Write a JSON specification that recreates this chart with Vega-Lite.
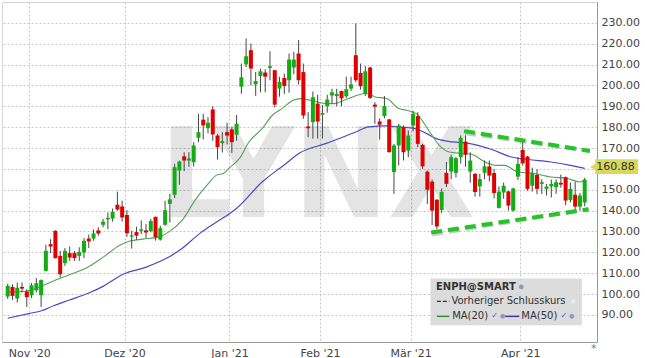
{
  "$schema": "https://vega.github.io/schema/vega-lite/v6.json",
  "width": 595,
  "height": 340,
  "autosize": {"type": "none"},
  "padding": {"left": 2, "top": 2, "right": 48, "bottom": 16},
  "background": "#ffffff",
  "data": {"values": [{}]},
  "config": {
    "view": {"stroke": "#d6d6d6", "strokeWidth": 1},
    "font": "DejaVu Sans",
    "axis": {
      "grid": true, "gridColor": "#c4c4c4", "gridDash": [2, 2], "gridWidth": 1,
      "ticks": false, "labelFont": "DejaVu Sans", "labelFontSize": 11, "labelColor": "#444444",
      "domainColor": "#9a9a9a", "labelOverlap": false
    }
  },
  "datasets": {
    "candles": [
      {"d":"2020-10-26","i":0,"o":98.8,"h":104.9,"l":97.7,"c":103.9},
      {"d":"2020-10-27","i":1,"o":103.4,"h":104.7,"l":97.2,"c":99.1},
      {"d":"2020-10-28","i":2,"o":97.8,"h":105.5,"l":95.9,"c":103.0},
      {"d":"2020-10-29","i":3,"o":103.4,"h":105.5,"l":100.7,"c":102.6},
      {"d":"2020-10-30","i":4,"o":101.2,"h":102.3,"l":93.8,"c":98.5},
      {"d":"2020-11-02","i":5,"o":99.4,"h":105.2,"l":98.0,"c":104.2},
      {"d":"2020-11-03","i":6,"o":101.8,"h":107.6,"l":100.7,"c":105.2},
      {"d":"2020-11-04","i":7,"o":99.4,"h":107.0,"l":93.8,"c":106.7},
      {"d":"2020-11-05","i":8,"o":111.1,"h":123.6,"l":110.8,"c":120.7},
      {"d":"2020-11-06","i":9,"o":123.9,"h":126.3,"l":119.6,"c":122.8},
      {"d":"2020-11-09","i":10,"o":130.3,"h":130.6,"l":117.0,"c":117.2},
      {"d":"2020-11-10","i":11,"o":118.3,"h":120.7,"l":107.9,"c":109.5},
      {"d":"2020-11-11","i":12,"o":114.8,"h":122.0,"l":113.5,"c":120.7},
      {"d":"2020-11-12","i":13,"o":119.6,"h":122.8,"l":115.9,"c":117.5},
      {"d":"2020-11-13","i":14,"o":119.6,"h":120.6,"l":115.9,"c":117.2},
      {"d":"2020-11-16","i":15,"o":118.3,"h":122.4,"l":115.9,"c":120.2},
      {"d":"2020-11-17","i":16,"o":119.9,"h":126.8,"l":117.2,"c":125.5},
      {"d":"2020-11-18","i":17,"o":126.6,"h":128.5,"l":122.1,"c":125.2},
      {"d":"2020-11-19","i":18,"o":126.6,"h":131.0,"l":125.5,"c":129.0},
      {"d":"2020-11-20","i":19,"o":130.5,"h":132.0,"l":128.0,"c":129.0},
      {"d":"2020-11-23","i":20,"o":133.2,"h":136.0,"l":132.0,"c":134.7},
      {"d":"2020-11-24","i":21,"o":135.8,"h":139.1,"l":131.1,"c":136.5},
      {"d":"2020-11-25","i":22,"o":136.2,"h":141.0,"l":134.7,"c":139.4},
      {"d":"2020-11-27","i":23,"o":142.8,"h":149.1,"l":140.0,"c":140.5},
      {"d":"2020-11-30","i":24,"o":142.0,"h":144.7,"l":134.7,"c":136.7},
      {"d":"2020-12-01","i":25,"o":137.9,"h":140.2,"l":127.4,"c":129.1},
      {"d":"2020-12-02","i":26,"o":127.5,"h":130.3,"l":121.8,"c":128.1},
      {"d":"2020-12-03","i":27,"o":129.7,"h":132.3,"l":126.0,"c":128.0},
      {"d":"2020-12-04","i":28,"o":130.3,"h":135.3,"l":128.7,"c":131.0},
      {"d":"2020-12-07","i":29,"o":130.5,"h":133.5,"l":126.8,"c":129.5},
      {"d":"2020-12-08","i":30,"o":130.2,"h":136.0,"l":129.6,"c":135.0},
      {"d":"2020-12-09","i":31,"o":137.0,"h":137.1,"l":125.6,"c":127.2},
      {"d":"2020-12-10","i":32,"o":126.1,"h":132.7,"l":125.6,"c":131.6},
      {"d":"2020-12-11","i":33,"o":133.2,"h":144.7,"l":132.7,"c":140.2},
      {"d":"2020-12-14","i":34,"o":143.2,"h":148.0,"l":134.3,"c":145.4},
      {"d":"2020-12-15","i":35,"o":147.6,"h":162.4,"l":146.0,"c":160.8},
      {"d":"2020-12-16","i":36,"o":159.2,"h":164.0,"l":152.4,"c":163.5},
      {"d":"2020-12-17","i":37,"o":166.0,"h":168.0,"l":158.9,"c":164.0},
      {"d":"2020-12-18","i":38,"o":164.0,"h":168.0,"l":161.0,"c":165.0},
      {"d":"2020-12-21","i":39,"o":163.2,"h":172.8,"l":161.1,"c":171.2},
      {"d":"2020-12-22","i":40,"o":174.9,"h":186.4,"l":172.8,"c":177.6},
      {"d":"2020-12-23","i":41,"o":183.6,"h":186.4,"l":174.1,"c":180.8},
      {"d":"2020-12-24","i":42,"o":179.5,"h":184.8,"l":177.1,"c":182.1},
      {"d":"2020-12-28","i":43,"o":188.5,"h":190.1,"l":173.5,"c":176.5},
      {"d":"2020-12-29","i":44,"o":176.0,"h":176.8,"l":164.5,"c":170.4},
      {"d":"2020-12-30","i":45,"o":172.3,"h":177.6,"l":167.9,"c":173.3},
      {"d":"2020-12-31","i":46,"o":177.6,"h":182.1,"l":171.7,"c":176.0},
      {"d":"2021-01-04","i":47,"o":178.9,"h":180.0,"l":167.6,"c":172.8},
      {"d":"2021-01-05","i":48,"o":176.4,"h":185.8,"l":173.5,"c":181.6},
      {"d":"2021-01-06","i":49,"o":199.4,"h":210.5,"l":196.0,"c":203.9},
      {"d":"2021-01-07","i":50,"o":210.1,"h":222.5,"l":208.8,"c":214.0},
      {"d":"2021-01-08","i":51,"o":216.9,"h":220.1,"l":200.0,"c":208.1},
      {"d":"2021-01-11","i":52,"o":200.5,"h":206.4,"l":195.0,"c":202.1},
      {"d":"2021-01-12","i":53,"o":204.5,"h":208.1,"l":196.7,"c":206.8},
      {"d":"2021-01-13","i":54,"o":206.2,"h":207.8,"l":196.7,"c":204.2},
      {"d":"2021-01-14","i":55,"o":208.4,"h":216.4,"l":202.5,"c":209.2},
      {"d":"2021-01-15","i":56,"o":207.3,"h":207.5,"l":189.4,"c":190.8},
      {"d":"2021-01-19","i":57,"o":198.5,"h":204.1,"l":194.6,"c":201.7},
      {"d":"2021-01-20","i":58,"o":203.6,"h":205.7,"l":195.9,"c":199.7},
      {"d":"2021-01-21","i":59,"o":202.5,"h":215.3,"l":196.5,"c":212.4},
      {"d":"2021-01-22","i":60,"o":208.6,"h":216.1,"l":205.4,"c":212.4},
      {"d":"2021-01-25","i":61,"o":215.3,"h":221.7,"l":200.4,"c":202.5},
      {"d":"2021-01-26","i":62,"o":206.4,"h":210.5,"l":184.0,"c":185.6},
      {"d":"2021-01-27","i":63,"o":180.3,"h":187.2,"l":175.2,"c":179.5},
      {"d":"2021-01-28","i":64,"o":182.4,"h":197.1,"l":174.5,"c":194.3},
      {"d":"2021-01-29","i":65,"o":191.3,"h":195.5,"l":174.5,"c":182.7},
      {"d":"2021-02-01","i":66,"o":186.0,"h":190.6,"l":174.5,"c":186.8},
      {"d":"2021-02-02","i":67,"o":190.1,"h":195.5,"l":186.9,"c":193.2},
      {"d":"2021-02-03","i":68,"o":195.2,"h":198.4,"l":191.3,"c":196.7},
      {"d":"2021-02-04","i":69,"o":194.9,"h":198.4,"l":190.0,"c":195.9},
      {"d":"2021-02-05","i":70,"o":197.3,"h":197.5,"l":190.0,"c":193.8},
      {"d":"2021-02-08","i":71,"o":194.8,"h":204.2,"l":194.0,"c":198.2},
      {"d":"2021-02-09","i":72,"o":198.5,"h":204.2,"l":197.3,"c":200.5},
      {"d":"2021-02-10","i":73,"o":214.5,"h":229.7,"l":201.6,"c":202.5},
      {"d":"2021-02-11","i":74,"o":206.0,"h":210.5,"l":198.0,"c":199.6},
      {"d":"2021-02-12","i":75,"o":196.0,"h":209.2,"l":195.0,"c":206.8},
      {"d":"2021-02-16","i":76,"o":208.6,"h":209.0,"l":193.5,"c":194.0},
      {"d":"2021-02-17","i":77,"o":190.8,"h":192.0,"l":181.6,"c":189.8},
      {"d":"2021-02-18","i":78,"o":182.7,"h":184.2,"l":174.0,"c":181.2},
      {"d":"2021-02-19","i":79,"o":185.3,"h":194.9,"l":184.2,"c":190.1},
      {"d":"2021-02-22","i":80,"o":183.7,"h":184.0,"l":167.8,"c":168.0},
      {"d":"2021-02-23","i":81,"o":158.5,"h":172.0,"l":148.0,"c":171.2},
      {"d":"2021-02-24","i":82,"o":171.2,"h":181.6,"l":161.6,"c":180.8},
      {"d":"2021-02-25","i":83,"o":180.0,"h":180.8,"l":164.0,"c":168.0},
      {"d":"2021-02-26","i":84,"o":168.8,"h":178.4,"l":165.6,"c":176.0},
      {"d":"2021-03-01","i":85,"o":180.8,"h":187.9,"l":178.0,"c":186.4},
      {"d":"2021-03-02","i":86,"o":185.3,"h":187.2,"l":170.4,"c":172.0},
      {"d":"2021-03-03","i":87,"o":171.5,"h":172.0,"l":160.0,"c":161.2},
      {"d":"2021-03-04","i":88,"o":158.7,"h":159.2,"l":143.2,"c":150.0},
      {"d":"2021-03-05","i":89,"o":153.9,"h":154.9,"l":133.1,"c":140.0},
      {"d":"2021-03-08","i":90,"o":145.2,"h":145.5,"l":131.0,"c":132.4},
      {"d":"2021-03-09","i":91,"o":140.3,"h":150.6,"l":138.9,"c":149.0},
      {"d":"2021-03-10","i":92,"o":158.1,"h":163.3,"l":151.3,"c":152.8},
      {"d":"2021-03-11","i":93,"o":158.7,"h":166.8,"l":155.0,"c":165.6},
      {"d":"2021-03-12","i":94,"o":158.1,"h":165.6,"l":155.9,"c":165.1},
      {"d":"2021-03-15","i":95,"o":165.6,"h":176.0,"l":162.5,"c":174.8},
      {"d":"2021-03-16","i":96,"o":173.1,"h":176.0,"l":161.0,"c":166.8},
      {"d":"2021-03-17","i":97,"o":158.7,"h":168.0,"l":153.3,"c":164.0},
      {"d":"2021-03-18","i":98,"o":157.6,"h":158.1,"l":146.7,"c":148.9},
      {"d":"2021-03-19","i":99,"o":151.6,"h":157.6,"l":146.7,"c":155.1},
      {"d":"2021-03-22","i":100,"o":158.1,"h":164.0,"l":155.0,"c":161.2},
      {"d":"2021-03-23","i":101,"o":161.2,"h":164.0,"l":154.0,"c":156.8},
      {"d":"2021-03-24","i":102,"o":158.0,"h":160.0,"l":145.8,"c":148.4},
      {"d":"2021-03-25","i":103,"o":141.3,"h":151.6,"l":141.0,"c":149.1},
      {"d":"2021-03-26","i":104,"o":148.7,"h":153.4,"l":145.7,"c":151.9},
      {"d":"2021-03-29","i":105,"o":149.2,"h":149.5,"l":140.0,"c":142.4},
      {"d":"2021-03-30","i":106,"o":140.0,"h":151.0,"l":139.5,"c":150.6},
      {"d":"2021-03-31","i":107,"o":156.3,"h":165.7,"l":154.7,"c":162.4},
      {"d":"2021-04-01","i":108,"o":169.1,"h":173.6,"l":161.6,"c":162.7},
      {"d":"2021-04-05","i":109,"o":165.9,"h":166.2,"l":149.5,"c":150.4},
      {"d":"2021-04-06","i":110,"o":151.9,"h":160.6,"l":149.1,"c":158.1},
      {"d":"2021-04-07","i":111,"o":157.1,"h":159.8,"l":147.8,"c":150.4},
      {"d":"2021-04-08","i":112,"o":152.8,"h":155.0,"l":148.0,"c":153.6},
      {"d":"2021-04-09","i":113,"o":150.4,"h":152.8,"l":147.2,"c":151.5},
      {"d":"2021-04-12","i":114,"o":151.6,"h":154.9,"l":146.3,"c":152.8},
      {"d":"2021-04-13","i":115,"o":151.2,"h":155.0,"l":148.0,"c":153.6},
      {"d":"2021-04-14","i":116,"o":153.3,"h":157.3,"l":151.0,"c":152.5},
      {"d":"2021-04-15","i":117,"o":156.0,"h":156.3,"l":142.6,"c":144.8},
      {"d":"2021-04-16","i":118,"o":145.1,"h":153.5,"l":143.9,"c":150.4},
      {"d":"2021-04-19","i":119,"o":147.6,"h":153.8,"l":140.4,"c":141.9},
      {"d":"2021-04-20","i":120,"o":141.9,"h":148.4,"l":139.9,"c":147.2},
      {"d":"2021-04-21","i":121,"o":143.9,"h":155.7,"l":142.0,"c":154.8}
    ],
    "ma20": [
      {"i":0,"v":100.9},{"i":3.6,"v":101.3},{"i":7.0,"v":103.7},{"i":9.1,"v":105.8},{"i":13.2,"v":109.5},
      {"i":16.6,"v":112.6},{"i":20.1,"v":117.8},{"i":23.5,"v":123.4},{"i":25.6,"v":125.4},{"i":28.3,"v":126.3},
      {"i":31.8,"v":127.4},{"i":33.8,"v":129.8},{"i":36.6,"v":135.4},{"i":39.3,"v":145.0},{"i":42.1,"v":153.0},
      {"i":43.8,"v":157.0},{"i":45.2,"v":157.8},{"i":46.5,"v":160.5},{"i":48.6,"v":165.0},{"i":50.6,"v":172.9},
      {"i":53.4,"v":179.4},{"i":55.5,"v":185.7},{"i":57.5,"v":188.9},{"i":59.9,"v":192.9},{"i":61.3,"v":193.7},
      {"i":64.4,"v":192.4},{"i":66.8,"v":191.3},{"i":68.5,"v":191.3},{"i":70.9,"v":193.3},{"i":75.1,"v":196.1},
      {"i":77.1,"v":194.5},{"i":79.5,"v":193.7},{"i":81.9,"v":189.1},{"i":83.6,"v":188.1},{"i":85.7,"v":186.5},
      {"i":88.5,"v":177.7},{"i":90.5,"v":171.3},{"i":92.6,"v":168.1},{"i":95.3,"v":167.4},{"i":97.4,"v":166.9},
      {"i":100.1,"v":163.3},{"i":102.5,"v":161.7},{"i":104.2,"v":161.7},{"i":107.0,"v":158.5},{"i":110.4,"v":157.8},
      {"i":113.9,"v":156.1},{"i":117.3,"v":155.4},{"i":120.1,"v":153.7},{"i":121,"v":154.9}
    ],
    "ma50": [
      {"i":0,"v":88.4},{"i":4.4,"v":90.6},{"i":7.1,"v":92.0},{"i":9.75,"v":94.5},{"i":12.8,"v":97.0},
      {"i":17.0,"v":100.5},{"i":20.1,"v":103.8},{"i":24.2,"v":109.5},{"i":28.9,"v":112.8},{"i":33.7,"v":117.6},
      {"i":36.6,"v":121.9},{"i":38.6,"v":125.8},{"i":40.7,"v":129.8},{"i":43.8,"v":134.5},{"i":46.5,"v":138.5},
      {"i":48.2,"v":141.5},{"i":53.4,"v":153.8},{"i":56.5,"v":159.4},{"i":57.5,"v":161.0},{"i":61.3,"v":167.7},
      {"i":66.8,"v":172.2},{"i":73.0,"v":177.7},{"i":75.7,"v":180.1},{"i":79.2,"v":180.6},{"i":81.9,"v":180.1},
      {"i":85.0,"v":179.5},{"i":87.8,"v":177.0},{"i":89.8,"v":174.6},{"i":93.3,"v":172.9},{"i":96.7,"v":172.2},
      {"i":101.5,"v":169.3},{"i":105.6,"v":165.7},{"i":109.1,"v":164.5},{"i":113.9,"v":163.3},{"i":118.0,"v":161.7},
      {"i":121,"v":160.2}
    ]
  },
  "layer": [
    {
      "data": {"name": "candles"},
      "mark": {"type": "rule", "opacity": 0},
      "encoding": {
        "x": {"field": "i", "type": "quantitative", "title": null,
              "scale": {"domain": [-0.15, 122.53], "nice": false, "zero": false},
              "axis": {"orient": "bottom", "title": null, "tickCount": 20, "values": [4.5, 24.5, 46.5, 65.5, 84.5, 107.5], "labelPadding": 5,
                       "labelExpr": "datum.value < 10 ? \"Nov '20\" : datum.value < 30 ? \"Dez '20\" : datum.value < 50 ? \"Jan '21\" : datum.value < 70 ? \"Feb '21\" : datum.value < 90 ? \"Mär '21\" : \"Apr '21\""}},
        "y": {"field": "l", "type": "quantitative", "title": null,
              "scale": {"domain": [77, 240], "nice": false, "zero": false},
              "axis": {"orient": "right", "title": null, "tickCount": 30, "values": [90,100,110,120,130,140,150,160,170,180,190,200,210,220,230], "labelPadding": 4, "labelOverlap": false,
                       "labelExpr": "datum.value == 160 ? '' : format(datum.value, '.2f')"}},
        "y2": {"field": "h"}
      }
    },
    {"mark": {"type": "text", "text": "LYNX", "font": "DejaVu Sans Condensed, Liberation Sans, sans-serif", "fontWeight": "bold", "fontSize": 125, "align": "center", "baseline": "alphabetic", "fill": "#000000", "opacity": 0.1},
     "encoding": {"x": {"datum": 65.0}, "y": {"datum": 137.0}}},
    {
      "data": {"name": "ma50"},
      "mark": {"type": "line", "color": "#4a4ac4", "strokeWidth": 1.2, "interpolate": "monotone"},
      "encoding": {"x": {"field": "i", "type": "quantitative", "title": null}, "y": {"field": "v", "type": "quantitative", "title": null}}
    },
    {
      "data": {"name": "ma20"},
      "mark": {"type": "line", "color": "#55a055", "strokeWidth": 1.1, "interpolate": "monotone"},
      "encoding": {"x": {"field": "i", "type": "quantitative", "title": null}, "y": {"field": "v", "type": "quantitative", "title": null}}
    },
    {
      "data": {"name": "candles"},
      "mark": {"type": "rule", "color": "#454545", "strokeWidth": 1},
      "encoding": {"x": {"field": "i", "type": "quantitative", "title": null}, "y": {"field": "l", "type": "quantitative", "title": null}, "y2": {"field": "h"}}
    },
    {
      "data": {"name": "candles"},
      "mark": {"type": "bar", "width": 4},
      "encoding": {
        "x": {"field": "i", "type": "quantitative", "title": null},
        "y": {"field": "o", "type": "quantitative", "title": null},
        "y2": {"field": "c"},
        "color": {"condition": {"test": "datum.c >= datum.o", "value": "#12ad12"}, "value": "#e00000"}
      }
    },
    {"mark": {"type": "rule", "color": "#888888", "opacity": 0.45, "strokeWidth": 4, "strokeDash": [11, 6], "yOffset": 2, "xOffset": 1},
     "encoding": {"x": {"datum": 95.7}, "y": {"datum": 178.1}, "x2": {"datum": 122.1}, "y2": {"datum": 168.6}}},
    {"mark": {"type": "rule", "color": "#888888", "opacity": 0.45, "strokeWidth": 4, "strokeDash": [11, 6], "yOffset": 2, "xOffset": 1},
     "encoding": {"x": {"datum": 88.8}, "y": {"datum": 129.5}, "x2": {"datum": 121.8}, "y2": {"datum": 140.6}}},
    {"mark": {"type": "rule", "color": "#26c426", "strokeWidth": 4, "strokeDash": [11, 6]},
     "encoding": {"x": {"datum": 95.7}, "y": {"datum": 178.1}, "x2": {"datum": 122.1}, "y2": {"datum": 168.6}}},
    {"mark": {"type": "rule", "color": "#26c426", "strokeWidth": 4, "strokeDash": [11, 6]},
     "encoding": {"x": {"datum": 88.8}, "y": {"datum": 129.5}, "x2": {"datum": 121.8}, "y2": {"datum": 140.6}}},
    {"mark": {"type": "rect", "fill": "#d9d9d9", "opacity": 0.92},
     "encoding": {"x": {"datum": 88.66}, "x2": {"datum": 120.4}, "y": {"datum": 107.4}, "y2": {"datum": 85.0}}},
    {"mark": {"type": "text", "text": "ENPH@SMART", "fontWeight": "bold", "fontSize": 10, "align": "left", "baseline": "middle", "color": "#333333"},
     "encoding": {"x": {"datum": 89.8}, "y": {"datum": 103.4}}},
    {"mark": {"type": "point", "filled": true, "size": 22, "color": "#7080a0"},
     "encoding": {"x": {"datum": 107.7}, "y": {"datum": 103.4}}},
    {"mark": {"type": "rule", "color": "#333333", "strokeWidth": 1.2, "strokeDash": [4, 2]},
     "encoding": {"x": {"datum": 90.0}, "x2": {"datum": 92.6}, "y": {"datum": 96.5}}},
    {"mark": {"type": "text", "text": "Vorheriger Schlusskurs", "fontSize": 10, "align": "left", "baseline": "middle", "color": "#333333"},
     "encoding": {"x": {"datum": 93.05}, "y": {"datum": 96.5}}},
    {"mark": {"type": "square", "filled": true, "size": 16, "color": "#f2f2f2"},
     "encoding": {"x": {"datum": 118.6}, "y": {"datum": 96.5}}},
    {"mark": {"type": "rule", "color": "#3a8a3a", "strokeWidth": 1.5},
     "encoding": {"x": {"datum": 90.0}, "x2": {"datum": 92.6}, "y": {"datum": 89.3}}},
    {"mark": {"type": "text", "text": "MA(20)", "fontSize": 10, "align": "left", "baseline": "middle", "color": "#333333"},
     "encoding": {"x": {"datum": 93.2}, "y": {"datum": 89.3}}},
    {"mark": {"type": "text", "text": "✓", "fontSize": 8, "align": "center", "baseline": "middle", "color": "#3355cc"},
     "encoding": {"x": {"datum": 102.1}, "y": {"datum": 89.3}}},
    {"mark": {"type": "point", "filled": true, "size": 22, "color": "#7080a0"},
     "encoding": {"x": {"datum": 103.8}, "y": {"datum": 89.3}}},
    {"mark": {"type": "rule", "color": "#3a3ab0", "strokeWidth": 1.5},
     "encoding": {"x": {"datum": 104.3}, "x2": {"datum": 107.3}, "y": {"datum": 89.3}}},
    {"mark": {"type": "text", "text": "MA(50)", "fontSize": 10, "align": "left", "baseline": "middle", "color": "#333333"},
     "encoding": {"x": {"datum": 107.7}, "y": {"datum": 89.3}}},
    {"mark": {"type": "text", "text": "✓", "fontSize": 8, "align": "center", "baseline": "middle", "color": "#3355cc"},
     "encoding": {"x": {"datum": 116.6}, "y": {"datum": 89.3}}},
    {"mark": {"type": "point", "filled": true, "size": 22, "color": "#7080a0"},
     "encoding": {"x": {"datum": 118.3}, "y": {"datum": 89.3}}},
    {"mark": {"type": "point", "shape": "triangle-left", "filled": true, "size": 70, "color": "#d8d85a", "opacity": 1},
     "encoding": {"x": {"datum": 122.9}, "y": {"datum": 160.88}}},
    {"mark": {"type": "rect", "fill": "#d8d85a"},
     "encoding": {"x": {"datum": 123.2}, "x2": {"datum": 132.2}, "y": {"datum": 164.6}, "y2": {"datum": 157.6}}},
    {"mark": {"type": "text", "text": "160.88", "fontSize": 11, "align": "left", "baseline": "middle", "color": "#333333"},
     "encoding": {"x": {"datum": 123.4}, "y": {"datum": 160.88}}},
    {"mark": {"type": "text", "text": "*", "fontSize": 11, "align": "center", "baseline": "middle", "color": "#777777"},
     "encoding": {"x": {"datum": 122.9}, "y": {"datum": 73.5}}}
  ]
}
